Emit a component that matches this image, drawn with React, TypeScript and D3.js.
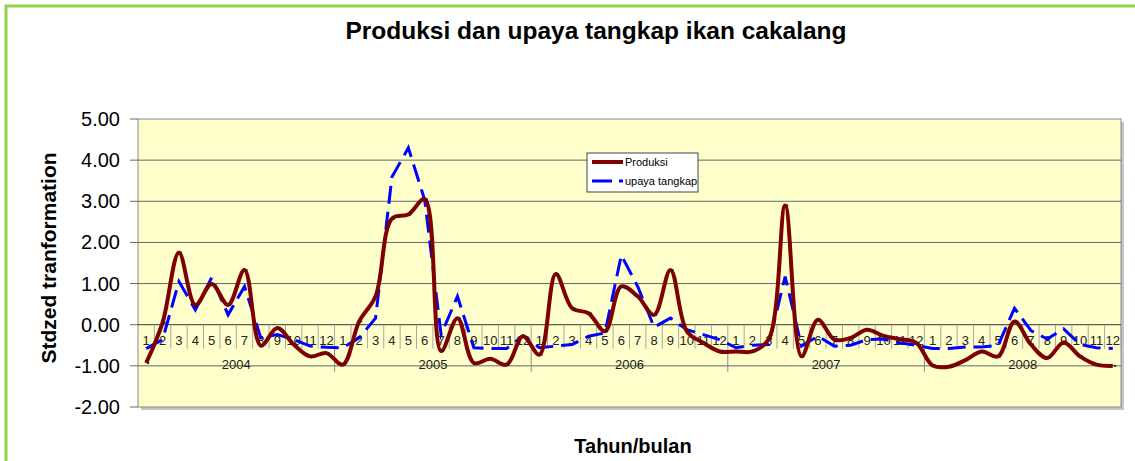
import React from "react";
import * as d3 from "d3";

const years = ["2004", "2005", "2006", "2007", "2008"];
const months = ["1", "2", "3", "4", "5", "6", "7", "8", "9", "10", "11", "12"];

// standardized values per month, Jan 2004 .. Dec 2008
const produksi = [
  -0.93, 0.05, 1.75, 0.48, 0.99, 0.48, 1.33, -0.51, -0.08, -0.48, -0.77, -0.69,
  -0.97, 0.08, 0.69, 2.58, 2.68, 3.05, -0.64, 0.16, -0.93, -0.83, -0.97, -0.28,
  -0.73, 1.23, 0.4, 0.28, -0.16, 0.93, 0.69, 0.24, 1.33, -0.16, -0.44, -0.65,
  -0.65, -0.65, -0.35, 2.9, -0.77, 0.12, -0.36, -0.32, -0.12, -0.27, -0.35, -0.44,
  -0.99, -1.02, -0.86, -0.65, -0.77, 0.08, -0.48, -0.81, -0.43, -0.77, -0.97, -1.0,
];
const upaya = [
  -0.58, -0.36, 1.05, 0.36, 1.15, 0.24, 0.93, -0.32, -0.24, -0.36, -0.52, -0.55,
  -0.56, -0.32, 0.16, 3.59, 4.3, 3.03, -0.24, 0.69, -0.56, -0.58, -0.58, -0.27,
  -0.56, -0.52, -0.48, -0.28, -0.2, 1.69, 0.93, -0.06, 0.16, -0.12, -0.24, -0.36,
  -0.56, -0.5, -0.48, 1.17, -0.52, -0.28, -0.52, -0.5, -0.36, -0.35, -0.44, -0.5,
  -0.58, -0.58, -0.54, -0.54, -0.5, 0.4, -0.14, -0.35, -0.1, -0.48, -0.56, -0.58,
];
const yTicks = [-2, -1, 0, 1, 2, 3, 4, 5];

const W = 1135;
const H = 461;
const left = 138;
const right = 1121;
const top = 119;
const bottom = 407;
const font = "'Liberation Sans', Arial, sans-serif";

export default function App() {
  const idx = d3.range(produksi.length);
  const x = d3.scaleBand<number>().domain(idx).range([left, right]);
  const y = d3.scaleLinear().domain([-2, 5]).range([bottom, top]);
  const cx = (i: number) => (x(i) as number) + x.bandwidth() / 2;

  const smooth = d3
    .line<number>()
    .x((_, i) => cx(i))
    .y((d) => y(d))
    .curve(d3.curveCatmullRom.alpha(0.5));
  const straight = d3
    .line<number>()
    .x((_, i) => cx(i))
    .y((d) => y(d));

  const y0 = y(0);
  const bw = x.bandwidth();

  return (
    <svg
      width={W}
      height={H}
      style={{ position: "absolute", left: 0, top: 0, background: "#fff" }}
      fontFamily={font}
    >
      {/* outer green frame */}
      <rect x={6} y={6} width={W + 10} height={H + 10} fill="#fff" stroke="#92d050" strokeWidth={3} />

      <text x={596} y={39} textAnchor="middle" fontSize={24.5} fontWeight="bold" fill="#000">
        Produksi dan upaya tangkap ikan cakalang
      </text>

      {/* plot area with shadow */}
      <rect x={left + 3} y={top + 3} width={right - left} height={bottom - top} fill="#c4c4c4" />
      <rect x={left} y={top} width={right - left} height={bottom - top} fill="#ffffcc" stroke="#888" strokeWidth={1} />

      {yTicks.map((t) => (
        <g key={t}>
          {t > -2 && t < 5 && (
            <line x1={left} x2={right} y1={y(t)} y2={y(t)} stroke={t === 0 ? "#333" : "#666"} strokeWidth={1} />
          )}
          <line x1={left - 8} x2={left} y1={y(t)} y2={y(t)} stroke="#666" />
          <text x={120} y={y(t) + 7} textAnchor="end" fontSize={20} fill="#000">
            {t.toFixed(2)}
          </text>
        </g>
      ))}

      {/* category axis: month ticks, month labels, year separators */}
      {idx.map((i) => (
        <line key={"mt" + i} x1={x(i)! + bw} x2={x(i)! + bw} y1={y0} y2={y0 + 24} stroke="#a8a8a0" strokeWidth={1} />
      ))}
      {idx.map((i) => (
        <text key={"ml" + i} x={cx(i)} y={y0 + 20} textAnchor="middle" fontSize={13} fill="#222">
          {months[i % 12]}
        </text>
      ))}
      {years.map((yr, k) => {
        const x0 = x(k * 12)!;
        const x1 = x(k * 12 + 11)! + bw;
        return (
          <g key={yr}>
            {k > 0 && <line x1={x0} x2={x0} y1={y0 + 24} y2={y0 + 47} stroke="#888" />}
            <text x={(x0 + x1) / 2} y={y0 + 44} textAnchor="middle" fontSize={13} fill="#222">
              {yr}
            </text>
          </g>
        );
      })}

      <path d={straight(upaya) ?? ""} fill="none" stroke="#0000ff" strokeWidth={3} strokeDasharray="18,8" />
      <path d={smooth(produksi) ?? ""} fill="none" stroke="#800000" strokeWidth={4} strokeLinejoin="round" />
      {produksi.map((v, i) => (
        <rect key={"p" + i} x={cx(i) + 1} y={y(v) - 1} width={2} height={2} fill="#222" />
      ))}

      {/* legend */}
      <g>
        <rect x={587} y={153} width={111} height={39} fill="#fff" stroke="#444" strokeWidth={1} />
        <line x1={592} x2={623} y1={162} y2={162} stroke="#800000" strokeWidth={4} />
        <text x={625} y={166} fontSize={11} fill="#000">Produksi</text>
        <line x1={592} x2={623} y1={181} y2={181} stroke="#0000ff" strokeWidth={3} strokeDasharray="20,7" />
        <text x={625} y={185} fontSize={11} fill="#000">upaya tangkap</text>
      </g>

      <text
        transform={`translate(56,258) rotate(-90)`}
        textAnchor="middle"
        fontSize={21}
        fontWeight="bold"
        fill="#000"
      >
        Stdzed tranformation
      </text>
      <text x={633} y={453} textAnchor="middle" fontSize={20} fontWeight="bold" fill="#000">
        Tahun/bulan
      </text>
    </svg>
  );
}
